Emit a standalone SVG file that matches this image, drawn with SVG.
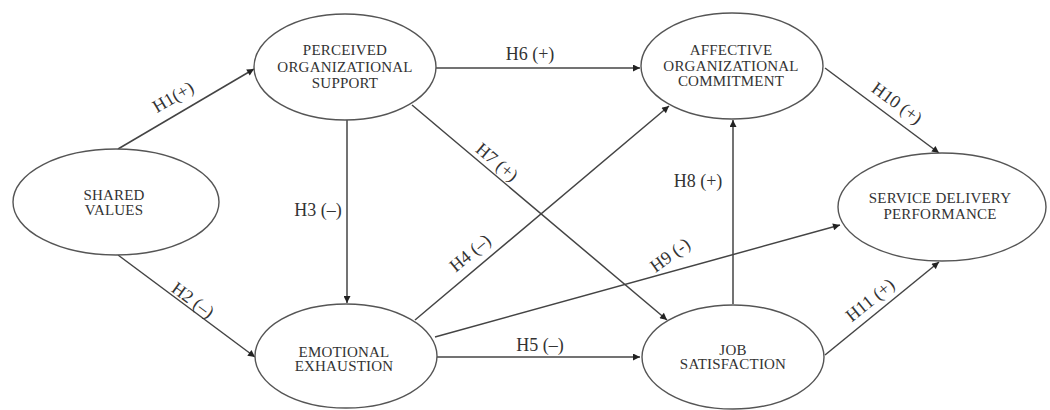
<svg xmlns="http://www.w3.org/2000/svg" width="1050" height="410" viewBox="0 0 1050 410">
<style>
.node{fill:#fff;stroke:#555;stroke-width:1.4}
.nt{font-family:"Liberation Serif","Times New Roman",serif;font-size:15px;fill:#333;text-anchor:middle;letter-spacing:0.2px}
.lb{font-family:"Liberation Serif","Times New Roman",serif;font-size:18px;fill:#333;text-anchor:middle}
.edge{stroke:#444;stroke-width:1.5;fill:none;marker-end:url(#ah)}
</style>
<defs>
<marker id="ah" viewBox="0 0 10 10" refX="10" refY="5" markerWidth="9" markerHeight="7" markerUnits="userSpaceOnUse" orient="auto">
<path d="M0,0 L10,5 L0,10 z" fill="#222"/>
</marker>
</defs>
<rect width="1050" height="410" fill="#fff"/>
<g id="connectors">
<line class="edge" x1="118" y1="149" x2="254" y2="69"/>
<line class="edge" x1="118" y1="255" x2="255" y2="357"/>
<line class="edge" x1="347" y1="120" x2="347" y2="303"/>
<line class="edge" x1="436" y1="68" x2="640" y2="68"/>
<line class="edge" x1="412" y1="105" x2="667" y2="320"/>
<line class="edge" x1="415" y1="320" x2="669" y2="106"/>
<line class="edge" x1="435" y1="337" x2="840" y2="225"/>
<line class="edge" x1="437" y1="357" x2="640" y2="357"/>
<line class="edge" x1="733" y1="304" x2="733" y2="120"/>
<line class="edge" x1="825" y1="68" x2="939" y2="153"/>
<line class="edge" x1="825" y1="355" x2="939" y2="262"/>
<text class="lb" transform="translate(173,97) rotate(-30.5)" dy="6">H1(+)</text>
<text class="lb" transform="translate(193,300) rotate(36.4)" dy="6">H2 (–)</text>
<text class="lb" x="318" y="216">H3 (–)</text>
<text class="lb" x="530" y="60">H6 (+)</text>
<text class="lb" transform="translate(497,162) rotate(40)" dy="6">H7 (+)</text>
<text class="lb" transform="translate(470,253) rotate(-40)" dy="6">H4 (–)</text>
<text class="lb" transform="translate(670,255) rotate(-36)" dy="6">H9 (-)</text>
<text class="lb" x="540" y="351">H5 (–)</text>
<text class="lb" x="698" y="187">H8 (+)</text>
<text class="lb" transform="translate(897,103) rotate(36.4)" dy="6">H10 (+)</text>
<text class="lb" transform="translate(870,300) rotate(-39)" dy="6">H11 (+)</text>
</g>
<g id="shared-values">
<ellipse class="node" cx="116" cy="202" rx="103" ry="53"/>
<text class="nt" x="114" y="200">SHARED</text>
<text class="nt" x="114" y="215">VALUES</text>
</g>
<g id="perceived-organizational-support">
<ellipse class="node" cx="345" cy="67" rx="91" ry="53"/>
<text class="nt" x="345" y="55">PERCEIVED</text>
<text class="nt" x="345" y="72">ORGANIZATIONAL</text>
<text class="nt" x="345" y="88">SUPPORT</text>
</g>
<g id="emotional-exhaustion">
<ellipse class="node" cx="346" cy="356" rx="91" ry="52"/>
<text class="nt" x="344" y="357">EMOTIONAL</text>
<text class="nt" x="344" y="371">EXHAUSTION</text>
</g>
<g id="affective-organizational-commitment">
<ellipse class="node" cx="732" cy="66" rx="91" ry="53"/>
<text class="nt" x="731" y="55">AFFECTIVE</text>
<text class="nt" x="731" y="71">ORGANIZATIONAL</text>
<text class="nt" x="731" y="86">COMMITMENT</text>
</g>
<g id="job-satisfaction">
<ellipse class="node" cx="733" cy="357" rx="91" ry="52"/>
<text class="nt" x="733" y="355">JOB</text>
<text class="nt" x="733" y="369">SATISFACTION</text>
</g>
<g id="service-delivery-performance">
<ellipse class="node" cx="942" cy="207" rx="104" ry="54"/>
<text class="nt" x="940" y="203">SERVICE DELIVERY</text>
<text class="nt" x="940" y="219">PERFORMANCE</text>
</g>
</svg>
